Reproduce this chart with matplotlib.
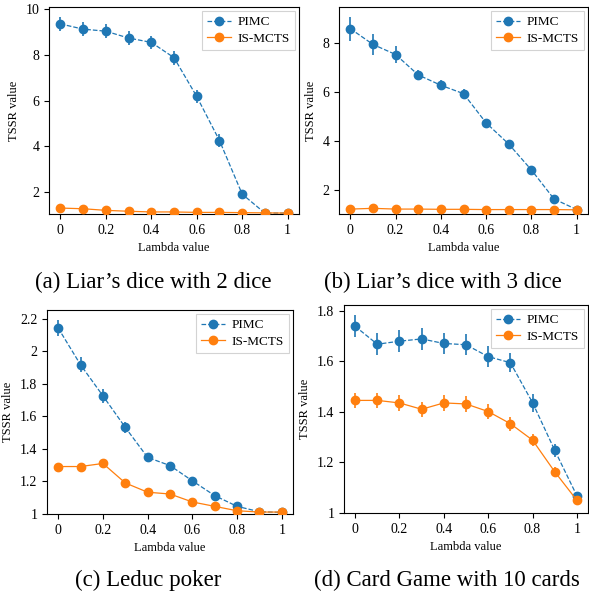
import matplotlib
matplotlib.use("Agg")
import matplotlib.pyplot as plt
from matplotlib.ticker import FuncFormatter
import numpy as np

plt.rcParams['font.family'] = ['Liberation Serif', 'DejaVu Serif']

lam = [0, 0.1, 0.2, 0.3, 0.4, 0.5, 0.6, 0.7, 0.8, 0.9, 1.0]

# (a) Liar's dice with 2 dice
a_pimc = [9.36, 9.13, 9.04, 8.74, 8.55, 7.88, 6.18, 4.25, 1.90, 1.07, 1.07]
a_pimc_err = [0.3, 0.3, 0.3, 0.3, 0.3, 0.3, 0.3, 0.3, 0.15, 0.05, 0.03]
a_is = [1.29, 1.26, 1.19, 1.15, 1.12, 1.12, 1.10, 1.10, 1.09, 1.08, 1.07]
a_is_err = [0.05, 0.05, 0.04, 0.04, 0.03, 0.03, 0.03, 0.03, 0.02, 0.02, 0.02]

# (b) Liar's dice with 3 dice
b_pimc = [8.57, 7.93, 7.52, 6.69, 6.27, 5.93, 4.74, 3.88, 2.83, 1.65, 1.22]
b_pimc_err = [0.49, 0.43, 0.34, 0.22, 0.2, 0.18, 0.12, 0.1, 0.08, 0.05, 0.03]
b_is = [1.24, 1.27, 1.24, 1.24, 1.23, 1.23, 1.22, 1.22, 1.22, 1.22, 1.21]
b_is_err = [0.04, 0.04, 0.04, 0.03, 0.03, 0.03, 0.03, 0.03, 0.03, 0.03, 0.02]

# (c) Leduc poker
c_pimc = [2.144, 1.918, 1.727, 1.533, 1.348, 1.298, 1.204, 1.113, 1.047, 1.014, 1.010]
c_pimc_err = [0.05, 0.045, 0.045, 0.035, 0.03, 0.02, 0.015, 0.015, 0.01, 0.008, 0.005]
c_is = [1.292, 1.292, 1.311, 1.191, 1.134, 1.123, 1.074, 1.047, 1.020, 1.012, 1.012]
c_is_err = [0.01, 0.01, 0.015, 0.01, 0.01, 0.01, 0.008, 0.008, 0.006, 0.005, 0.005]

# (d) Card Game with 10 cards
d_pimc = [1.738, 1.667, 1.679, 1.688, 1.670, 1.665, 1.618, 1.594, 1.436, 1.248, 1.068]
d_pimc_err = [0.044, 0.044, 0.044, 0.042, 0.042, 0.042, 0.04, 0.038, 0.035, 0.025, 0.01]
d_is = [1.445, 1.445, 1.435, 1.410, 1.435, 1.431, 1.401, 1.353, 1.288, 1.163, 1.050]
d_is_err = [0.03, 0.03, 0.03, 0.03, 0.03, 0.03, 0.03, 0.028, 0.025, 0.02, 0.01]

xticks = [0, 0.2, 0.4, 0.6, 0.8, 1.0]
a_yticks = [2, 4, 6, 8, 10]
b_yticks = [2, 4, 6, 8]
c_yticks = [1.0, 1.2, 1.4, 1.6, 1.8, 2.0, 2.2]
d_yticks = [1.0, 1.2, 1.4, 1.6, 1.8]

captions = ["(a) Liar\u2019s dice with 2 dice", "(b) Liar\u2019s dice with 3 dice",
            "(c) Leduc poker", "(d) Card Game with 10 cards"]

BLUE = '#1f77b4'
ORANGE = '#ff7f0e'

W, H = 589, 599
fig = plt.figure(figsize=(W / 100, H / 100), dpi=100)

def pos(l, r, t, b):
    return [l / W, 1 - b / H, (r - l) / W, (b - t) / H]

panels = [
    (pos(49, 299, 7, 214), a_pimc, a_pimc_err, a_is, a_is_err, a_yticks, (1.03, 10.1)),
    (pos(339, 588, 7, 214), b_pimc, b_pimc_err, b_is, b_is_err, b_yticks, (1.04, 9.45)),
    (pos(47, 293, 310, 514), c_pimc, c_pimc_err, c_is, c_is_err, c_yticks, (1.0, 2.255)),
    (pos(344, 588, 305, 513), d_pimc, d_pimc_err, d_is, d_is_err, d_yticks, (1.0, 1.822)),
]

fmt = FuncFormatter(lambda v, p: '%g' % round(v, 3))

for rect, pm, pme, im, ime, yt, yl in panels:
    ax = fig.add_axes(rect)
    ax.errorbar(lam, pm, yerr=pme, fmt='none', ecolor=BLUE, elinewidth=1.2, zorder=3)
    ax.errorbar(lam, im, yerr=ime, fmt='none', ecolor=ORANGE, elinewidth=1.2, zorder=3)
    ax.plot(lam, pm, linestyle='--', color=BLUE, marker='o', markersize=6,
            linewidth=0.9, label='PIMC', zorder=4)
    ax.plot(lam, im, linestyle='-', color=ORANGE, marker='o', markersize=6,
            linewidth=0.9, label='IS-MCTS', zorder=4)
    ax.set_xlim(-0.05, 1.05)
    ax.set_ylim(*yl)
    ax.set_xticks(xticks)
    ax.set_yticks(yt)
    ax.xaxis.set_major_formatter(fmt)
    ax.yaxis.set_major_formatter(fmt)
    ax.tick_params(labelsize=10, length=3.5, width=0.8, pad=3.5)
    ax.set_xlabel('Lambda value', fontsize=9, labelpad=4)
    ax.set_ylabel('TSSR value', fontsize=9, labelpad=4)
    for s in ax.spines.values():
        s.set_linewidth(0.8)
    leg = ax.legend(loc='upper right', fontsize=9.5, fancybox=False, edgecolor='#c8c8c8',
                    handlelength=1.8, borderpad=0.4, labelspacing=0.3, handletextpad=0.5,
                    borderaxespad=0.3)
    leg.get_frame().set_linewidth(0.8)

fig.text(153 / W, 1 - 282 / H, captions[0], ha='center', va='center', fontsize=16.5)
fig.text(443 / W, 1 - 282 / H, captions[1], ha='center', va='center', fontsize=16.5)
fig.text(148 / W, 1 - 580 / H, captions[2], ha='center', va='center', fontsize=16.5)
fig.text(447 / W, 1 - 580 / H, captions[3], ha='center', va='center', fontsize=16.5)

fig.savefig('out.png', dpi=100)
